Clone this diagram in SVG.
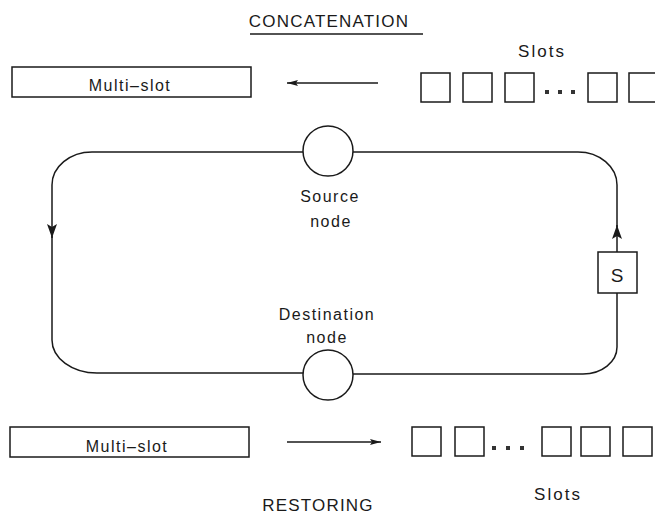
<svg xmlns="http://www.w3.org/2000/svg" width="655" height="516" viewBox="0 0 655 516">
<defs>
<style>
.ln{fill:none;stroke:#1a1a1a;stroke-width:1.5}
.bx{fill:#fff;stroke:#1a1a1a;stroke-width:1.5}
.sq{fill:#fff;stroke:#1a1a1a;stroke-width:1.5}
.dot{fill:#333}
.t{font-family:"Liberation Sans",Arial,sans-serif;font-size:16px;fill:#1a1a1a;text-anchor:middle;letter-spacing:1.5px}
</style>
<marker id="ah" markerUnits="userSpaceOnUse" markerWidth="14" markerHeight="10" refX="14" refY="5" orient="auto" viewBox="0 0 14 10">
<path d="M0,0 L14,5 L0,10 L3,5 Z" fill="#1a1a1a"/>
</marker>
<marker id="ahs" markerUnits="userSpaceOnUse" markerWidth="11" markerHeight="6" refX="11" refY="3" orient="auto" viewBox="0 0 11 6">
<path d="M0,0 L11,3 L0,6 L2,3 Z" fill="#1a1a1a"/>
</marker>
</defs>
<rect width="655" height="516" fill="#fff"/>

<g id="title-concatenation">
<text class="t" x="329" y="27" style="font-size:17px;letter-spacing:1.2px">CONCATENATION</text>
<line class="ln" x1="250" y1="34" x2="423" y2="34"/>
</g>

<g id="connectors">
<path class="ln" d="M303,152 H92 A40,33 0 0 0 52,185 V238" marker-end="url(#ah)"/>
<path class="ln" d="M52,236 V340 A45,33 0 0 0 97,373 H303"/>
<path class="ln" d="M353,374 H583 A34,27 0 0 0 617,347 V293"/>
<path class="ln" d="M617,252 V225" marker-end="url(#ah)"/>
<path class="ln" d="M617,227 V185 A39,33 0 0 0 578,152 H353"/>
<path class="ln" d="M378,83 H287" marker-end="url(#ahs)"/>
<path class="ln" d="M287,442 H381" marker-end="url(#ahs)"/>
</g>

<g id="multislot-top">
<rect class="bx" x="12" y="67" width="239" height="30"/>
<text class="t" x="130" y="91">Multi–slot</text>
</g>

<g id="slots-top">
<text class="t" x="542" y="57" style="font-size:17px;letter-spacing:2px">Slots</text>
<rect class="sq" x="421" y="73" width="29" height="29"/>
<rect class="sq" x="463" y="73" width="29" height="29"/>
<rect class="sq" x="505" y="73" width="29" height="29"/>
<rect class="dot" x="545" y="90" width="4" height="4"/>
<rect class="dot" x="558" y="90" width="4" height="4"/>
<rect class="dot" x="571" y="90" width="4" height="4"/>
<rect class="sq" x="588" y="73" width="29" height="29"/>
<rect class="sq" x="629" y="73" width="29" height="29"/>
</g>

<g id="source-node">
<circle class="bx" cx="328" cy="151" r="25"/>
<text class="t" x="330" y="202">Source</text>
<text class="t" x="331" y="227">node</text>
</g>

<g id="destination-node">
<circle class="bx" cx="328" cy="375" r="25"/>
<text class="t" x="327" y="320">Destination</text>
<text class="t" x="327" y="343">node</text>
</g>

<g id="s-box">
<rect class="bx" x="598" y="252" width="39" height="41"/>
<text class="t" x="617" y="282" style="font-size:19px;letter-spacing:0">S</text>
</g>

<g id="multislot-bottom">
<rect class="bx" x="10" y="427" width="239" height="30"/>
<text class="t" x="127" y="452">Multi–slot</text>
</g>

<g id="slots-bottom">
<rect class="sq" x="412" y="427" width="29" height="29"/>
<rect class="sq" x="455" y="427" width="29" height="29"/>
<rect class="dot" x="492" y="446" width="4" height="4"/>
<rect class="dot" x="506" y="446" width="4" height="4"/>
<rect class="dot" x="520" y="446" width="4" height="4"/>
<rect class="sq" x="542" y="427" width="29" height="29"/>
<rect class="sq" x="581" y="427" width="29" height="29"/>
<rect class="sq" x="623" y="427" width="29" height="29"/>
<text class="t" x="558" y="500" style="font-size:17px;letter-spacing:2px">Slots</text>
</g>

<g id="title-restoring">
<text class="t" x="318" y="511" style="font-size:17px;letter-spacing:1.2px">RESTORING</text>
</g>
</svg>
